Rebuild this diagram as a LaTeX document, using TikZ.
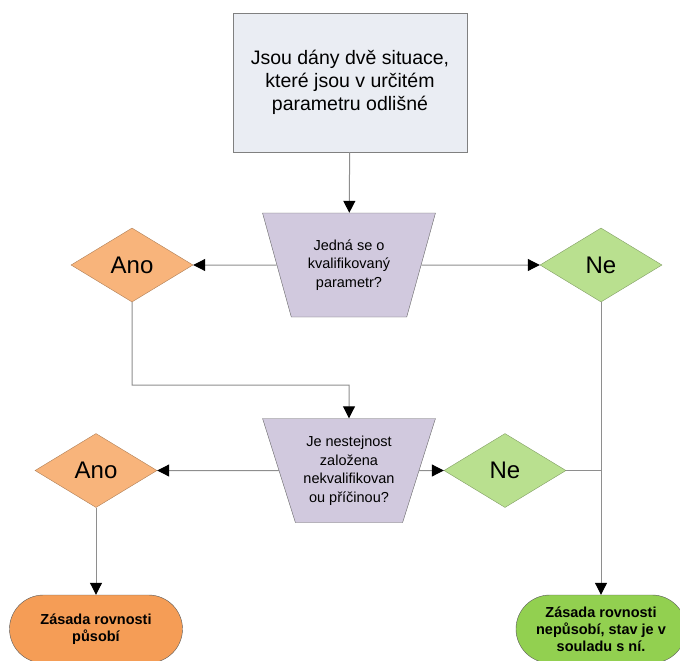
\documentclass[tikz,border=0pt]{standalone}
\usepackage{fontspec}
\setmainfont{Liberation Sans}
\usetikzlibrary{arrows.meta,shapes.geometric}

\definecolor{linegray}{HTML}{8E8E8E}
\definecolor{boxfill}{HTML}{EAEDF3}
\definecolor{askfill}{HTML}{D1C9DE}
\definecolor{anofill}{HTML}{F8B47B}
\definecolor{nefill}{HTML}{B9E08F}
\definecolor{anoend}{HTML}{F59D56}
\definecolor{neend}{HTML}{92D050}

\begin{document}
\begin{tikzpicture}[
  x=1pt, y=-1pt,
  >={Triangle[length=12pt,width=12pt,color=black]},
  link/.style={draw=linegray,line width=1pt},
  situation/.style={draw=gray,fill=boxfill,minimum width=234pt,minimum height=139pt,align=center,font=\fontsize{19.5}{23}\selectfont},
  ask/.style={draw=black!60,fill=askfill,trapezium,shape border rotate=180,trapezium stretches=true,trapezium angle=68,minimum width=173pt,minimum height=104pt,inner sep=0,align=center,font=\fontsize{14.5}{18.5}\selectfont},
  answer/.style={diamond,minimum width=122pt,minimum height=74pt,inner sep=0,font=\fontsize{24}{26}\selectfont},
  yes/.style={answer,draw=anofill!70!black,fill=anofill},
  no/.style={answer,draw=nefill!70!black,fill=nefill},
  verdict/.style={draw=black!65,rounded corners=34pt,minimum height=68pt,align=center,font=\bfseries\fontsize{14.5}{17}\selectfont}
  ]

  \useasboundingbox (0,0) rectangle (680,661);

  \node [situation] (given) at (350,82.5) {Jsou dány dvě situace,\\které jsou v určitém\\parametru odlišné};

  \node [ask] (ask1) at (349,265) {Jedná se o\\kvalifikovaný\\parametr?};
  \node [yes] (ano1) at (132,265) {Ano};
  \node [no] (ne1) at (601,265) {Ne};

  \node [ask] (ask2) at (349,470.5) {Je nestejnost\\založena\\nekvalifikovan\\ou příčinou?};
  \node [yes] (ano2) at (96,470.5) {Ano};
  \node [no] (ne2) at (505,470.5) {Ne};

  \node [verdict,fill=anoend,minimum width=173pt] (applies) at (96,629) {Zásada rovnosti\\působí};
  \node [verdict,fill=neend,minimum width=170pt] (holds) at (601,629) {Zásada rovnosti\\nepůsobí, stav je v\\souladu s ní.};

  \coordinate (bend) at (349,385);

  \draw [link,->] (given) -- (ask1);
  \draw [link,->] (ask1) -- (ano1);
  \draw [link,->] (ask1) -- (ne1);
  \draw [link,->] (ano1.south) |- (bend) -- (ask2.north);
  \draw [link,->] (ask2) -- (ano2);
  \draw [link,->] (ask2) -- (ne2);
  \draw [link,->] (ano2.south) -- (applies.north);
  \draw [link,->] (ne1.south) -- (holds.north);
  \draw [link] (ne2.east) -- (ne2.east -| ne1);

\end{tikzpicture}
\end{document}
